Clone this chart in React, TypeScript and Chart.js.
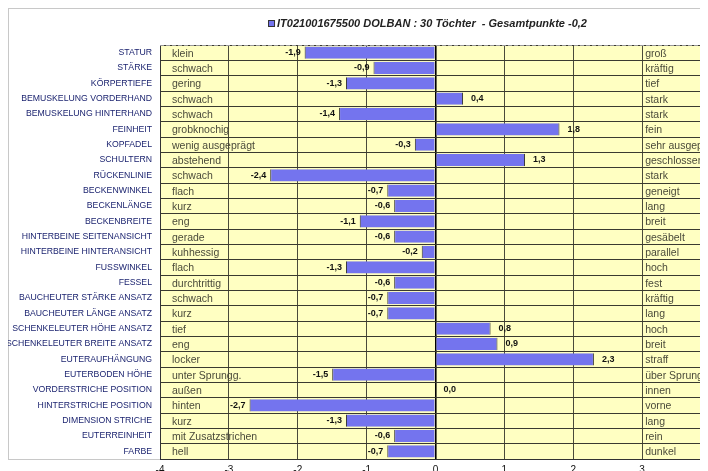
import { useEffect, useRef } from 'react';
import { Chart, registerables } from 'chart.js';

Chart.register(...registerables);

const categories = [
  'STATUR', 'STÄRKE', 'KÖRPERTIEFE', 'BEMUSKELUNG VORDERHAND', 'BEMUSKELUNG HINTERHAND',
  'FEINHEIT', 'KOPFADEL', 'SCHULTERN', 'RÜCKENLINIE', 'BECKENWINKEL', 'BECKENLÄNGE',
  'BECKENBREITE', 'HINTERBEINE SEITENANSICHT', 'HINTERBEINE HINTERANSICHT', 'FUSSWINKEL',
  'FESSEL', 'BAUCHEUTER STÄRKE ANSATZ', 'BAUCHEUTER LÄNGE ANSATZ', 'SCHENKELEUTER HÖHE ANSATZ',
  'SCHENKELEUTER BREITE ANSATZ', 'EUTERAUFHÄNGUNG', 'EUTERBODEN HÖHE', 'VORDERSTRICHE POSITION',
  'HINTERSTRICHE POSITION', 'DIMENSION STRICHE', 'EUTERREINHEIT', 'FARBE',
];

const values = [
  -1.9, -0.9, -1.3, 0.4, -1.4, 1.8, -0.3, 1.3, -2.4, -0.7, -0.6, -1.1, -0.6, -0.2, -1.3,
  -0.6, -0.7, -0.7, 0.8, 0.9, 2.3, -1.5, 0.0, -2.7, -1.3, -0.6, -0.7,
];

const lowLabels = [
  'klein', 'schwach', 'gering', 'schwach', 'schwach', 'grobknochig', 'wenig ausgeprägt',
  'abstehend', 'schwach', 'flach', 'kurz', 'eng', 'gerade', 'kuhhessig', 'flach',
  'durchtrittig', 'schwach', 'kurz', 'tief', 'eng', 'locker', 'unter Sprungg.', 'außen',
  'hinten', 'kurz', 'mit Zusatzstrichen', 'hell',
];

const highLabels = [
  'groß', 'kräftig', 'tief', 'stark', 'stark', 'fein', 'sehr ausgeprägt', 'geschlossen',
  'stark', 'geneigt', 'lang', 'breit', 'gesäbelt', 'parallel', 'hoch', 'fest', 'kräftig',
  'lang', 'hoch', 'breit', 'straff', 'über Sprungg.', 'innen', 'vorne', 'lang', 'rein', 'dunkel',
];

const xMin = -4;
const xMax = 4;
const seriesName = 'IT021001675500 DOLBAN : 30 Töchter  - Gesamtpunkte -0,2';

const FONT = '"Liberation Sans", Arial, sans-serif';
const BAR = '#7474EE';
const YELLOW = '#FFFFC2';

const fmt = (v: number) => v.toFixed(1).replace('.', ',');

export default function App() {
  const ref = useRef<HTMLCanvasElement | null>(null);

  useEffect(() => {
    document.body.style.overflow = 'hidden';
    const canvas = ref.current;
    if (!canvas) return;

    const decor = {
      id: 'decor',
      beforeDraw(chart: any) {
        const { ctx, chartArea: a, width } = chart;
        ctx.save();
        ctx.fillStyle = '#ffffff';
        ctx.fillRect(0, 0, chart.width, chart.height);
        ctx.strokeStyle = '#c8c8c8';
        ctx.lineWidth = 1;
        ctx.strokeRect(0.5, 0.5, width, a.bottom);
        ctx.fillStyle = YELLOW;
        ctx.fillRect(a.left, a.top, a.right - a.left, a.bottom - a.top);
        ctx.restore();
      },
      afterDraw(chart: any) {
        const { ctx, chartArea: a } = chart;
        const x = chart.scales.x;
        const y = chart.scales.y;
        ctx.save();
        ctx.strokeStyle = '#999';
        ctx.setLineDash([4, 2]);
        ctx.beginPath();
        ctx.moveTo(a.left, a.top + 0.5);
        ctx.lineTo(a.right, a.top + 0.5);
        ctx.stroke();
        ctx.setLineDash([]);
        ctx.font = `10.5px ${FONT}`;
        ctx.fillStyle = '#4a4a3a';
        ctx.textBaseline = 'middle';
        ctx.textAlign = 'left';
        const lx = x.getPixelForValue(xMin) + 12;
        const rx = x.getPixelForValue(3) + 3;
        categories.forEach((_, i) => {
          const py = y.getPixelForValue(i) + 1;
          ctx.fillText(lowLabels[i], lx, py);
          ctx.fillText(highLabels[i], rx, py);
        });
        ctx.font = `italic bold 11px ${FONT}`;
        ctx.fillStyle = '#222';
        const tw = ctx.measureText(seriesName).width;
        const cx = 424;
        const tl = cx - tw / 2;
        ctx.textAlign = 'left';
        ctx.fillText(seriesName, tl, 16);
        ctx.fillStyle = BAR;
        ctx.fillRect(tl - 9, 12, 7, 7);
        ctx.strokeStyle = '#333';
        ctx.strokeRect(tl - 8.5, 12.5, 6, 6);
        ctx.restore();
      },
      afterDatasetsDraw(chart: any) {
        const { ctx } = chart;
        const meta = chart.getDatasetMeta(0);
        ctx.save();
        ctx.font = `bold 9px ${FONT}`;
        ctx.fillStyle = '#111';
        ctx.textBaseline = 'middle';
        meta.data.forEach((el: any, i: number) => {
          const v = values[i];
          const t = fmt(v);
          if (v < 0) {
            ctx.textAlign = 'right';
            ctx.fillText(t, el.x - 4, el.y);
          } else {
            ctx.textAlign = 'left';
            ctx.fillText(t, el.x + 8, el.y);
          }
        });
        ctx.restore();
      },
    };

    const chart = new Chart(canvas, {
      type: 'bar',
      data: {
        labels: categories,
        datasets: [
          {
            label: seriesName,
            data: values,
            backgroundColor: BAR,
            borderColor: '#333',
            borderWidth: { left: 1, right: 1, top: 0, bottom: 0 } as any,
            borderSkipped: 'start',
            barPercentage: 0.8,
            categoryPercentage: 1,
          },
        ],
      },
      options: {
        indexAxis: 'y',
        animation: false,
        responsive: false,
        layout: { padding: { top: 37, right: 57, left: 0, bottom: 0 } },
        plugins: {
          legend: { display: false },
          tooltip: { enabled: false },
          title: { display: false },
        },
        scales: {
          x: {
            min: xMin,
            max: xMax,
            ticks: {
              stepSize: 1,
              color: '#111',
              font: { family: FONT, size: 10 },
              padding: 5,
            },
            grid: {
              drawTicks: false,
              color: (c: any) => (c.tick && c.tick.value === 0 ? '#000' : '#4a4a3a'),
              lineWidth: (c: any) => (c.tick && c.tick.value === 0 ? 1.6 : 1),
            },
            border: { display: true, color: '#333' },
            afterFit: (s: any) => {
              s.height = 20;
            },
          },
          y: {
            offset: true,
            ticks: {
              color: '#1c2470',
              font: { family: FONT, size: 8.7 },
              padding: 8,
              autoSkip: false,
            },
            grid: {
              drawTicks: false,
              offset: true,
              color: '#3a3a30',
              lineWidth: 1,
            },
            border: { display: true, color: '#333' },
            afterFit: (s: any) => {
              s.width = 152;
            },
          },
        },
      },
      plugins: [decor],
    });

    return () => chart.destroy();
  }, []);

  return (
    <div style={{ width: 700, height: 463, overflow: 'hidden' }}>
      <canvas ref={ref} width={760} height={471} style={{ display: 'block' }} />
    </div>
  );
}
